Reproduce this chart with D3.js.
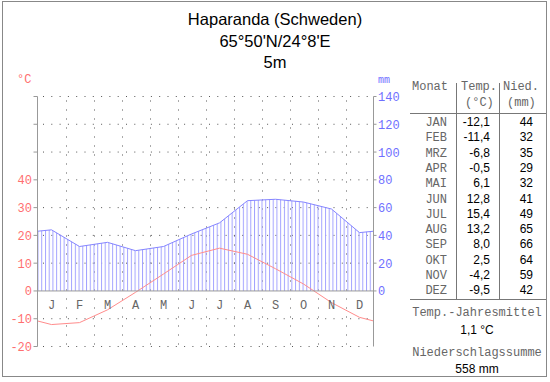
<!DOCTYPE html>
<html>
<head>
<meta charset="utf-8">
<script src="https://cdn.jsdelivr.net/npm/d3@7"></script>
<style>
  html, body { margin: 0; padding: 0; background: #fff; }
  svg { display: block; }
  .mono { font-family: "Liberation Mono", "DejaVu Sans Mono", monospace; }
  .sans { font-family: "Liberation Sans", Arial, sans-serif; }
</style>
</head>
<body>
<svg id="chart" width="550" height="382"></svg>
<script>
// climate chart — Haparanda
const titleLines = ["Haparanda (Schweden)", "65°50'N/24°8'E", "5m"];
const monthNames = ["JAN", "FEB", "MRZ", "APR", "MAI", "JUN", "JUL", "AUG", "SEP", "OKT", "NOV", "DEZ"];
const monthLetters = ["J", "F", "M", "A", "M", "J", "J", "A", "S", "O", "N", "D"];
const temperature = [-12.1, -11.4, -6.8, -0.5, 6.1, 12.8, 15.4, 13.2, 8.0, 2.5, -4.2, -9.5];
const precipitation = [44, 32, 35, 29, 32, 41, 49, 65, 66, 64, 59, 42];
const tempTicks = [-20, -10, 0, 10, 20, 30, 40];
const precTicks = [0, 20, 40, 60, 80, 100, 120, 140];

const svg = d3.select("#chart");
const RED = "#ff6f6f", BLUE = "#6f6fff", GRID = "#555", AXIS = "#999";

// german decimals, plain hyphen as minus
const de = d3.formatLocale({ decimal: ",", thousands: ".", grouping: [3], currency: ["", " €"], minus: "-" });
const f1 = de.format(".1f");

const x = d3.scaleLinear().domain([0, 12]).range([37.5, 373.5]);
const yT = d3.scaleLinear().domain([-20, 70]).range([346.5, 96.5]);
const yP = d3.scaleLinear().domain([-40, 140]).range([346.5, 96.5]);

// outer frame
svg.append("rect").attr("x", 2.5).attr("y", 1.5).attr("width", 544).attr("height", 375)
  .attr("fill", "none").attr("stroke", "#888");

// title
svg.append("g").selectAll("text").data(titleLines).join("text")
  .attr("class", "sans").attr("x", 275).attr("y", (d, i) => 25 + i * 21.7)
  .attr("text-anchor", "middle").attr("font-size", 16.5).attr("fill", "#000").text(d => d);

// dotted grid
const grid = svg.append("g").attr("stroke", GRID).attr("stroke-width", 1);
grid.selectAll("line.h").data(d3.range(-20, 71, 10).filter(v => v !== 0)).join("line")
  .attr("x1", x(0) + 5.5).attr("x2", x(12)).attr("y1", d => yT(d)).attr("y2", d => yT(d))
  .attr("stroke-dasharray", "1,7.3");
grid.selectAll("line.v").data(d3.range(1, 12)).join("line")
  .attr("x1", d => Math.round(x(d)) + 0.5).attr("x2", d => Math.round(x(d)) + 0.5)
  .attr("y1", yT(70) + 4).attr("y2", yT(-20))
  .attr("stroke-dasharray", "1,8");

// points at mid-month, closed with the Dec/Jan mean at both edges
const edge = arr => (arr[0] + arr[arr.length - 1]) / 2;
const pts = arr => [[0, edge(arr)], ...arr.map((v, i) => [i + 0.5, v]), [12, edge(arr)]];

// precipitation hatch
const defs = svg.append("defs");
const pat = defs.append("pattern").attr("id", "hatch").attr("patternUnits", "userSpaceOnUse")
  .attr("x", x(0)).attr("y", 0).attr("width", 28 / 7.5).attr("height", 382);
pat.append("line").attr("x1", 0.5).attr("x2", 0.5).attr("y1", 0).attr("y2", 382)
  .attr("stroke", "#a3a3ff").attr("stroke-width", 1);

svg.append("path").datum(pts(precipitation))
  .attr("d", d3.area().x(d => x(d[0])).y0(yP(0)).y1(d => yP(d[1])))
  .attr("fill", "url(#hatch)");
svg.append("path").datum(pts(precipitation))
  .attr("d", d3.line().x(d => x(d[0])).y(d => yP(d[1])))
  .attr("fill", "none").attr("stroke", "#8585ff").attr("stroke-width", 1);

// temperature line
svg.append("path").datum(pts(temperature))
  .attr("d", d3.line().x(d => x(d[0])).y(d => yT(d[1])))
  .attr("fill", "none").attr("stroke", "#ff8c8c").attr("stroke-width", 1);

// axes
const ax = svg.append("g").attr("stroke", AXIS).attr("fill", "none");
ax.append("line").attr("x1", x(0)).attr("x2", x(0)).attr("y1", yT(70)).attr("y2", yT(-20));
ax.append("line").attr("x1", x(12)).attr("x2", x(12)).attr("y1", yT(70)).attr("y2", yT(-20));
ax.append("line").attr("x1", x(0)).attr("x2", x(12)).attr("y1", yT(0)).attr("y2", yT(0));
ax.selectAll("line.lt").data(d3.range(-20, 71, 10)).join("line")
  .attr("x1", x(0) - 4).attr("x2", x(0)).attr("y1", d => yT(d)).attr("y2", d => yT(d));
ax.selectAll("line.rt").data(precTicks).join("line")
  .attr("x1", x(12)).attr("x2", x(12) + 3).attr("y1", d => yP(d)).attr("y2", d => yP(d));

svg.append("g").selectAll("text").data(tempTicks).join("text")
  .attr("class", "mono").attr("x", 32).attr("y", d => yT(d) + 4.5)
  .attr("text-anchor", "end").attr("font-size", 12).attr("fill", RED).text(d => de.format("d")(d));
svg.append("g").selectAll("text").data(precTicks).join("text")
  .attr("class", "mono").attr("x", 378).attr("y", d => yP(d) + 4.5)
  .attr("font-size", 12).attr("fill", BLUE).text(d => d);

svg.append("text").attr("class", "mono").attr("x", 17).attr("y", 83)
  .attr("font-size", 12).attr("fill", RED).text("°C");
svg.append("text").attr("class", "mono").attr("x", 378).attr("y", 83)
  .attr("font-size", 10).attr("fill", BLUE).text("mm");

svg.append("g").selectAll("text").data(monthLetters).join("text")
  .attr("class", "mono").attr("x", (d, i) => x(i + 0.5)).attr("y", 309)
  .attr("text-anchor", "middle").attr("font-size", 12).attr("fill", "#666").text(d => d);

// table
const tb = svg.append("g");
const rowY = i => 126 + i * 15.3;
tb.append("text").attr("class", "mono").attr("x", 412).attr("y", 90).attr("font-size", 12).attr("fill", "#666").text("Monat");
tb.append("text").attr("class", "mono").attr("x", 461).attr("y", 90).attr("font-size", 12).attr("fill", "#666").text("Temp.");
tb.append("text").attr("class", "mono").attr("x", 465).attr("y", 106).attr("font-size", 12).attr("fill", "#666").text("(°C)");
tb.append("text").attr("class", "mono").attr("x", 503).attr("y", 90).attr("font-size", 12).attr("fill", "#666").text("Nied.");
tb.append("text").attr("class", "mono").attr("x", 507).attr("y", 106).attr("font-size", 12).attr("fill", "#666").text("(mm)");

tb.selectAll("line.sep").data([456.5, 499.5]).join("line")
  .attr("x1", d => d).attr("x2", d => d).attr("y1", 83).attr("y2", 299).attr("stroke", "#777");
tb.selectAll("line.hr").data([113.5, 299.5]).join("line")
  .attr("x1", 410).attr("x2", 546).attr("y1", d => d).attr("y2", d => d).attr("stroke", "#777");

tb.selectAll("text.m").data(monthNames).join("text")
  .attr("class", "mono").attr("x", 447).attr("y", (d, i) => rowY(i))
  .attr("text-anchor", "end").attr("font-size", 12).attr("fill", "#666").text(d => d);
tb.selectAll("text.t").data(temperature).join("text")
  .attr("class", "sans").attr("x", 490).attr("y", (d, i) => rowY(i))
  .attr("text-anchor", "end").attr("font-size", 12).attr("fill", "#000").text(d => f1(d));
tb.selectAll("text.p").data(precipitation).join("text")
  .attr("class", "sans").attr("x", 533).attr("y", (d, i) => rowY(i))
  .attr("text-anchor", "end").attr("font-size", 12).attr("fill", "#000").text(d => d);

const footer = [
  ["mono", "#666", "Temp.-Jahresmittel", 316],
  ["sans", "#000", f1(d3.mean(temperature)) + " °C", 333.5],
  ["mono", "#666", "Niederschlagssumme", 356],
  ["sans", "#000", d3.sum(precipitation) + " mm", 372.5]
];
tb.selectAll("text.f").data(footer).join("text")
  .attr("class", d => d[0]).attr("x", 477).attr("y", d => d[3])
  .attr("text-anchor", "middle").attr("font-size", 12).attr("fill", d => d[1]).text(d => d[2]);
</script>
</body>
</html>
